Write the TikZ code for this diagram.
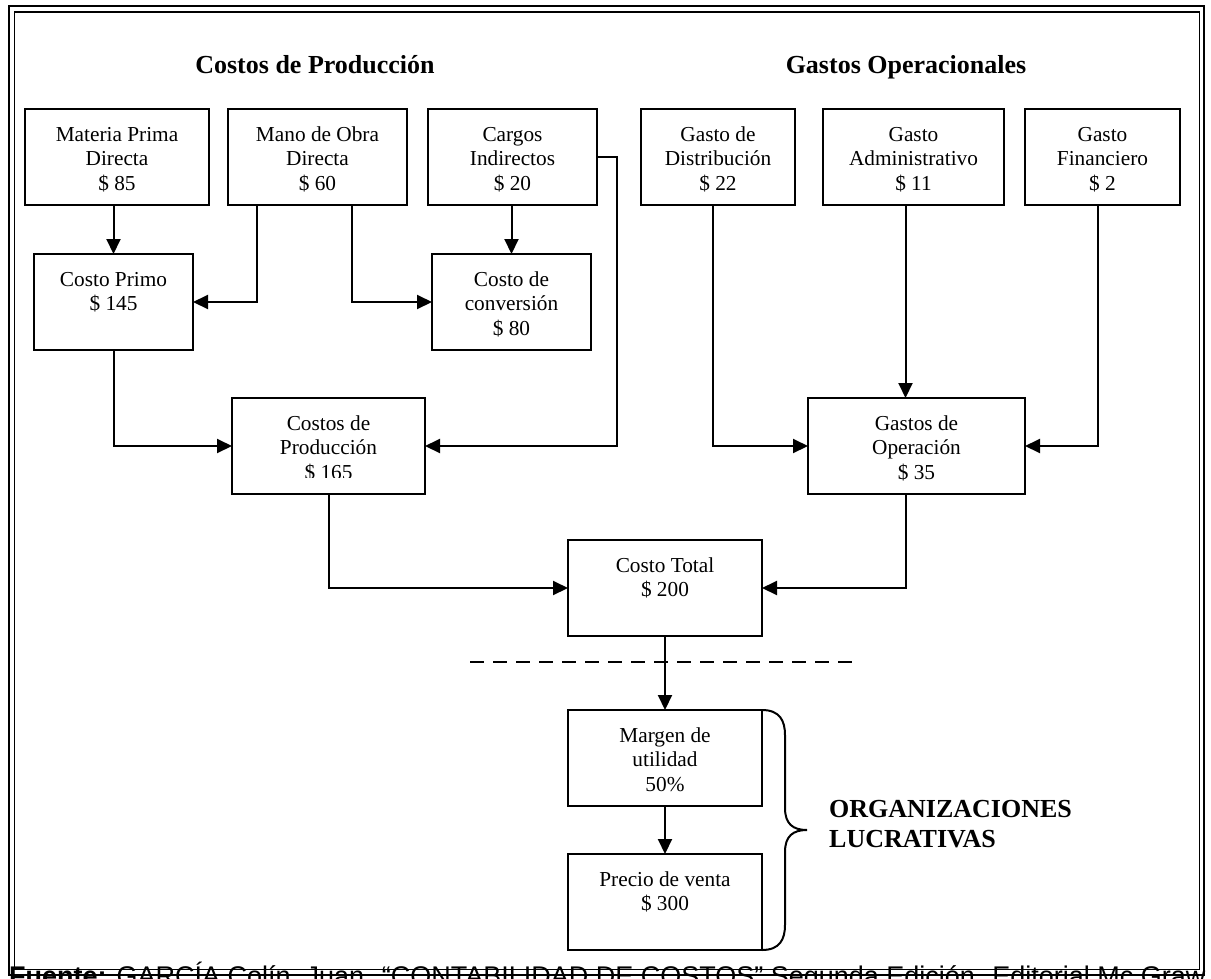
\documentclass[tikz,border=0pt]{standalone}
\usepackage{fontspec}
\setmainfont{Liberation Serif}
\newfontfamily\arialfont{Liberation Sans}
\usetikzlibrary{arrows.meta,positioning}

\begin{document}
\begin{tikzpicture}[
  x=1pt, y=-1pt,
  font=\fontsize{21.3}{24.5}\selectfont,
  box/.style={draw, line width=2pt, inner sep=0pt, outer sep=0pt, text width=#1, align=flush center, text height=32pt, text depth=64pt},
  title/.style={inner sep=0pt, font=\fontsize{26}{30}\selectfont\bfseries},
  arrow/.style={-{Triangle[length=15pt,width=14pt]}, line width=2pt},
  cutline/.style={line width=2pt, dash pattern=on 14pt off 9pt}
]
\useasboundingbox (0,0) rectangle (1211,978);
% marco doble
\draw[line width=2.5pt] (9,6) rectangle (1204,975);
\draw[line width=1.8pt] (14.5,12) rectangle (1199.5,969.5);

\node[title, anchor=base] (tprod) at (315,73) {Costos de Producción};
\node[title, anchor=base] (tgast) at (906,73) {Gastos Operacionales};

% elementos del costo
\node[box=184pt, anchor=north west] (mp) at (25,109) {Materia Prima\\Directa\\\$ 85};
\node[box=179pt, right=19pt of mp] (mo) {Mano de Obra\\Directa\\\$ 60};
\node[box=169pt, right=21pt of mo] (ci) {Cargos\\Indirectos\\\$ 20};
\node[box=154pt, right=44pt of ci] (gd) {Gasto de\\Distribución\\\$ 22};
\node[box=181pt, right=28pt of gd] (ga) {Gasto\\Administrativo\\\$ 11};
\node[box=155pt, right=21pt of ga] (gf) {Gasto\\Financiero\\\$ 2};

\node[box=159pt, anchor=north west] (cp) at (34,254) {Costo Primo\\\$ 145};
\node[box=159pt, anchor=north west] (cc) at (432,254) {Costo de\\conversión\\\$ 80};
\node[box=193pt, anchor=north west,
  path picture={\clip ([yshift=17pt]path picture bounding box.south west) rectangle (path picture bounding box.north east);
    \node[anchor=base, inner sep=0pt] at ([yshift=-81pt]path picture bounding box.north) {\$ 165};}]
  (cdp) at (232,398) {Costos de\\Producción};
\node[box=217pt, anchor=north west] (go) at (808,398) {Gastos de\\Operación\\\$ 35};
\node[box=194pt, anchor=north west] (ct) at (568,540) {Costo Total\\\$ 200};
\node[box=194pt, anchor=north west] (mu) at (568,710) {Margen de\\utilidad\\50\%};
\node[box=194pt, anchor=north west] (pv) at (568,854) {Precio de venta\\\$ 300};

\node[title, align=left, anchor=north west] (lucro) at (829,800) {ORGANIZACIONES\\LUCRATIVAS};

% flechas
\draw[arrow] (cp.north |- mp.south) -- (cp.north);
\draw[arrow] ([xshift=29pt]mo.south west) |- (cp.east);
\draw[arrow] ([xshift=-55pt]mo.south east) |- (cc.west);
\draw[arrow] (cc.north |- ci.south) -- (cc.north);
\draw[arrow] (ci.east) -- ++(20,0) |- (cdp.east);
\draw[arrow] (cp.south) |- (cdp.west);
\draw[arrow] ([xshift=-5pt]gd.south) |- (go.west);
\draw[arrow] ([xshift=-8pt]ga.south) -- ([xshift=-8pt]ga.south |- go.north);
\draw[arrow] ([xshift=-5pt]gf.south) |- (go.east);
\draw[arrow] (cdp.south) |- (ct.west);
\draw[arrow] ([xshift=-11pt]go.south) |- (ct.east);
\draw[cutline] (470,662) -- (856,662);
\draw[arrow] (ct.south) -- (mu.north);
\draw[arrow] (mu.south) -- (pv.north);

% llave
\draw[line width=2pt] (mu.north east) .. controls +(18,0) and +(0,-14) .. (785,735) -- (785,808)
  .. controls +(0,16) and +(-14,0) .. (807,830) .. controls +(-14,0) and +(0,-16) .. (785,852)
  -- (785,925) .. controls +(0,14) and +(18,0) .. (pv.south east);

\node[anchor=base west, inner sep=0pt, font=\arialfont\fontsize{27}{30}\selectfont] (fuente) at (9,985)
  {\textbf{Fuente:} GARCÍA Colín, Juan. “CONTABILIDAD DE COSTOS” Segunda Edición. Editorial Mc Graw};
\end{tikzpicture}
\end{document}
